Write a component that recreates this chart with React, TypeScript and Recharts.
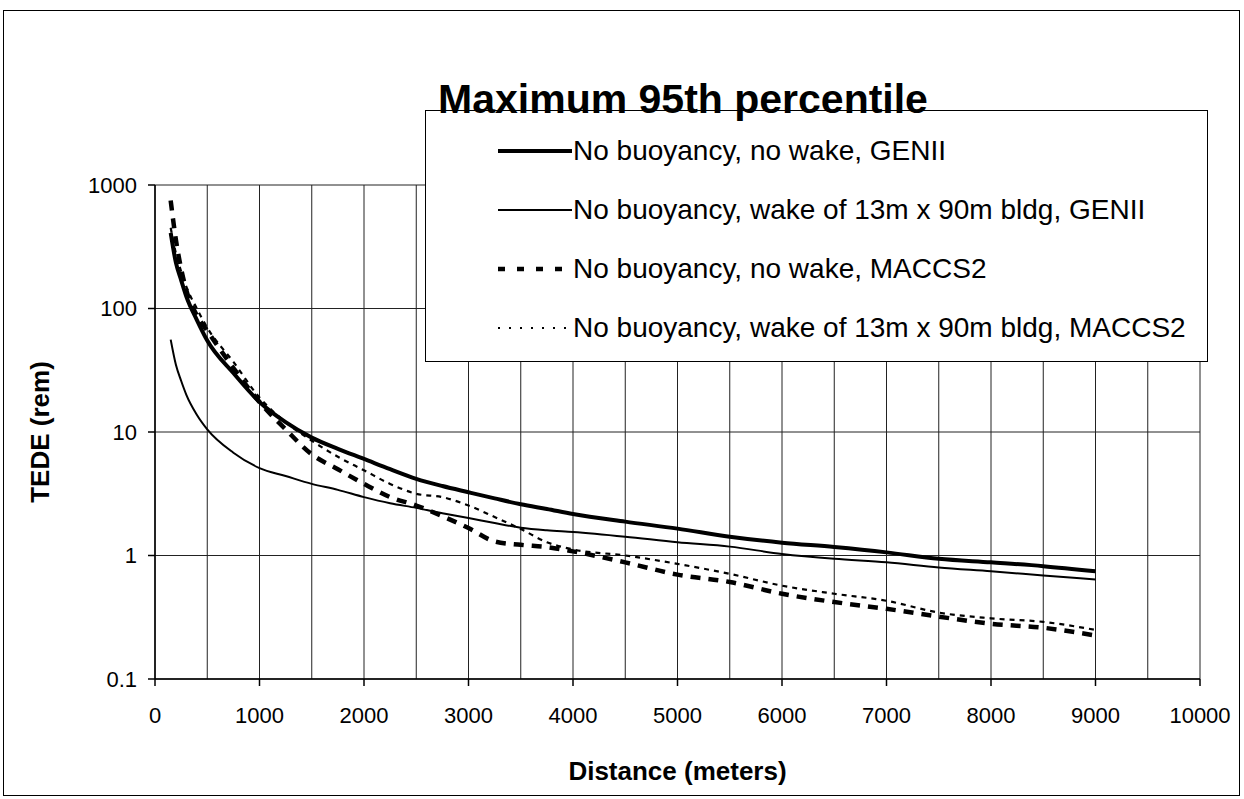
import React from 'react';
import { LineChart, Line, XAxis, YAxis, CartesianGrid, Legend } from 'recharts';

// distance from source (m) and 95th percentile TEDE (rem)
const distances = [150, 200, 250, 300, 400, 500, 750, 1000, 1250, 1500, 1750, 2000, 2250, 2500, 2750, 3000, 3250, 3500, 3750, 4000, 4500, 5000, 5500, 6000, 6500, 7000, 7500, 8000, 8500, 9000];
const genNoWake = [410, 235, 170, 125, 81, 55, 30, 17.5, 12, 9, 7.3, 6.05, 5.0, 4.18, 3.65, 3.25, 2.9, 2.6, 2.38, 2.17, 1.88, 1.65, 1.42, 1.27, 1.17, 1.06, 0.94, 0.88, 0.82, 0.745];
const genWake = [56, 35, 26, 20, 13.8, 10.5, 6.8, 5.1, 4.4, 3.8, 3.4, 2.97, 2.65, 2.43, 2.2, 2.01, 1.83, 1.68, 1.6, 1.55, 1.42, 1.28, 1.18, 1.03, 0.94, 0.88, 0.8, 0.745, 0.69, 0.64];
const maccsNoWake = [750, 360, 210, 140, 88, 66, 33, 17.5, 10.5, 6.6, 5.0, 3.8, 2.97, 2.54, 2.08, 1.67, 1.3, 1.22, 1.17, 1.08, 0.88, 0.7, 0.61, 0.49, 0.42, 0.37, 0.32, 0.28, 0.26, 0.225];
const maccsWake = [450, 280, 200, 150, 100, 70, 37, 19, 12, 8.5, 6.3, 4.9, 3.8, 3.16, 2.97, 2.54, 2.05, 1.64, 1.28, 1.12, 1.0, 0.855, 0.71, 0.57, 0.49, 0.43, 0.345, 0.31, 0.29, 0.25];

const xTicks = [0, 1000, 2000, 3000, 4000, 5000, 6000, 7000, 8000, 9000, 10000];
const xGridLines = [0, 500, 1000, 1500, 2000, 2500, 3000, 3500, 4000, 4500, 5000, 5500, 6000, 6500, 7000, 7500, 8000, 8500, 9000, 9500, 10000];
const yTicks = [0.1, 1, 10, 100, 1000];

const seriesKeys = ['genNoWake', 'genWake', 'maccsNoWake', 'maccsWake'];
const seriesNames = [
  'No buoyancy, no wake, GENII',
  'No buoyancy, wake of 13m x 90m bldg, GENII',
  'No buoyancy, no wake, MACCS2',
  'No buoyancy, wake of 13m x 90m bldg, MACCS2',
];

const lineStyles = [
  { width: 4, dash: undefined, legendDash: undefined },
  { width: 2, dash: undefined, legendDash: undefined },
  { width: 4.5, dash: '10 8', legendDash: '7 12' },
  { width: 2.2, dash: '5 5', legendDash: '2 9' },
];

const data = distances.map((d, i) => ({
  distance: d,
  genNoWake: genNoWake[i],
  genWake: genWake[i],
  maccsNoWake: maccsNoWake[i],
  maccsWake: maccsWake[i],
}));

const font = '"Liberation Sans", Arial, sans-serif';

const LegendBox = () => (
  <div
    style={{
      width: 783,
      height: 252,
      border: '1.5px solid #000',
      background: '#fff',
      boxSizing: 'border-box',
      paddingTop: 10,
      fontFamily: font,
    }}
  >
    {seriesNames.map((name, i) => (
      <div key={name} style={{ display: 'flex', alignItems: 'center', height: 59, paddingLeft: 71 }}>
        <svg width={76} height={20}>
          <line
            x1={1}
            y1={10}
            x2={75}
            y2={10}
            stroke="#000"
            strokeWidth={lineStyles[i].width}
            strokeDasharray={lineStyles[i].legendDash}
          />
        </svg>
        <span style={{ fontSize: 28, color: '#000', whiteSpace: 'nowrap' }}>{name}</span>
      </div>
    ))}
  </div>
);

export default function App() {
  return (
    <div style={{ position: 'absolute', left: 0, top: 0, width: 1244, height: 799, background: '#fff', fontFamily: font }}>
      <div
        style={{
          position: 'absolute',
          left: 3,
          top: 10,
          width: 1237,
          height: 786,
          border: '1.5px solid #000',
          boxSizing: 'border-box',
        }}
      />
      <LineChart
        width={1244}
        height={799}
        data={data}
        margin={{ top: 185, right: 44, bottom: 80, left: 95 }}
        style={{ position: 'absolute', left: 0, top: 0 }}
      >
        <CartesianGrid stroke="#222" strokeWidth={1} verticalValues={xGridLines} />
        <XAxis
          dataKey="distance"
          type="number"
          domain={[0, 10000]}
          ticks={xTicks}
          interval={0}
          height={40}
          tickSize={7}
          tickMargin={21}
          stroke="#000"
          strokeWidth={1.5}
          tick={{ fontSize: 22, fill: '#000', fontFamily: font }}
        />
        <YAxis
          scale="log"
          domain={[0.1, 1000]}
          ticks={yTicks}
          interval={0}
          allowDataOverflow
          width={60}
          tickSize={7}
          tickMargin={11}
          stroke="#000"
          strokeWidth={1.5}
          tick={{ fontSize: 22, fill: '#000', fontFamily: font }}
        />
        {seriesKeys.map((key, i) => (
          <Line
            key={key}
            dataKey={key}
            name={seriesNames[i]}
            type="monotone"
            stroke="#000"
            strokeWidth={lineStyles[i].width}
            strokeDasharray={lineStyles[i].dash}
            dot={false}
            isAnimationActive={false}
          />
        ))}
        <Legend
          layout="vertical"
          align="center"
          verticalAlign="middle"
          content={() => <LegendBox />}
          wrapperStyle={{ left: 425, top: 110, width: 783, height: 252 }}
        />
      </LineChart>
      <div
        style={{
          position: 'absolute',
          left: 0,
          width: 1366,
          top: 76,
          textAlign: 'center',
          fontSize: 41,
          fontWeight: 'bold',
          lineHeight: '46px',
          color: '#000',
        }}
      >
        Maximum 95th percentile
      </div>
      <div
        style={{
          position: 'absolute',
          left: 155,
          width: 1045,
          top: 756,
          textAlign: 'center',
          fontSize: 26,
          fontWeight: 'bold',
          lineHeight: '30px',
          color: '#000',
        }}
      >
        Distance (meters)
      </div>
      <div
        style={{
          position: 'absolute',
          left: 40,
          top: 432,
          transform: 'translate(-50%, -50%) rotate(-90deg)',
          fontSize: 26,
          fontWeight: 'bold',
          whiteSpace: 'nowrap',
          color: '#000',
        }}
      >
        TEDE (rem)
      </div>
    </div>
  );
}
